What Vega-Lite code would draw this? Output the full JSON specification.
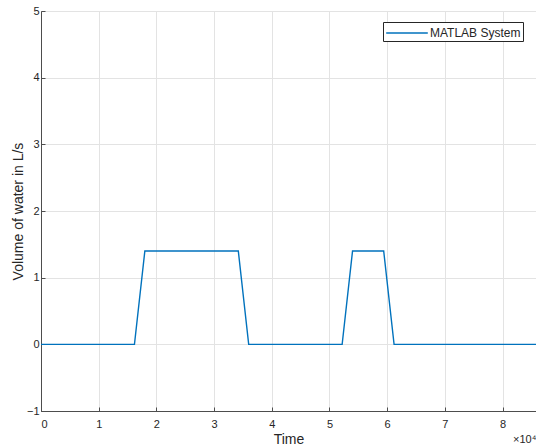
{
  "$schema": "https://vega.github.io/schema/vega-lite/v6.json",
  "width": 495,
  "height": 400,
  "autosize": {"type": "none"},
  "padding": {"left": 41, "top": 11, "right": 0, "bottom": 37},
  "background": "white",
  "config": {
    "font": "Liberation Sans",
    "view": {"stroke": "#4d4d4d", "strokeWidth": 1},
    "axis": {
      "domainColor": "#4d4d4d",
      "tickColor": "#4d4d4d",
      "gridColor": "#e3e3e3",
      "gridWidth": 1,
      "labelColor": "#262626",
      "titleColor": "#262626",
      "labelFont": "Liberation Sans",
      "titleFont": "Liberation Sans",
      "labelFontSize": 11,
      "titleFontSize": 14,
      "titleFontWeight": "normal"
    }
  },
  "datasets": {
    "flow": [
      {"time": 0, "volume": 0, "series": "MATLAB System"},
      {"time": 16200, "volume": 0, "series": "MATLAB System"},
      {"time": 18000, "volume": 1.4, "series": "MATLAB System"},
      {"time": 34200, "volume": 1.4, "series": "MATLAB System"},
      {"time": 36000, "volume": 0, "series": "MATLAB System"},
      {"time": 52200, "volume": 0, "series": "MATLAB System"},
      {"time": 54000, "volume": 1.4, "series": "MATLAB System"},
      {"time": 59400, "volume": 1.4, "series": "MATLAB System"},
      {"time": 61200, "volume": 0, "series": "MATLAB System"},
      {"time": 86400, "volume": 0, "series": "MATLAB System"}
    ],
    "exponent": [
      {"time": 85800, "volume": -1, "label": "×10⁴"}
    ]
  },
  "layer": [
    {
      "data": {"name": "flow"},
      "mark": {"type": "line", "clip": true, "strokeWidth": 1.4, "interpolate": "linear"},
      "encoding": {
        "x": {
          "field": "time",
          "type": "quantitative",
          "scale": {"domain": [0, 85800], "nice": false, "zero": false},
          "axis": {
            "title": "Time",
            "values": [0, 10000, 20000, 30000, 40000, 50000, 60000, 70000, 80000],
            "labelExpr": "format(datum.value / 10000, 'd')",
            "tickSize": -4,
            "labelPadding": 11,
            "titlePadding": 3,
            "grid": true
          }
        },
        "y": {
          "field": "volume",
          "type": "quantitative",
          "scale": {"domain": [-1, 5], "nice": false},
          "axis": {
            "title": "Volume of water in L/s",
            "values": [-1, 0, 1, 2, 3, 4, 5],
            "format": "d",
            "tickSize": -4,
            "labelPadding": 6,
            "titlePadding": 1,
            "grid": true
          }
        },
        "color": {
          "field": "series",
          "type": "nominal",
          "scale": {"range": ["#0072BD"]},
          "legend": {
            "title": null,
            "orient": "none",
            "legendX": 342,
            "legendY": 11,
            "symbolType": "M-2.6,0H2.6",
            "symbolSize": 256,
            "symbolStrokeWidth": 1.4,
            "symbolOffset": 13,
            "labelOffset": 14,
            "labelFontSize": 12,
            "labelColor": "#262626",
            "labelFont": "Liberation Sans",
            "strokeColor": "#262626",
            "fillColor": "white",
            "padding": 2
          }
        }
      }
    },
    {
      "data": {"name": "exponent"},
      "mark": {"type": "text", "align": "left", "baseline": "middle", "dx": -23, "dy": 29, "fontSize": 11, "color": "#262626", "clip": false},
      "encoding": {
        "x": {"field": "time", "type": "quantitative"},
        "y": {"field": "volume", "type": "quantitative"},
        "text": {"field": "label"}
      }
    }
  ]
}
